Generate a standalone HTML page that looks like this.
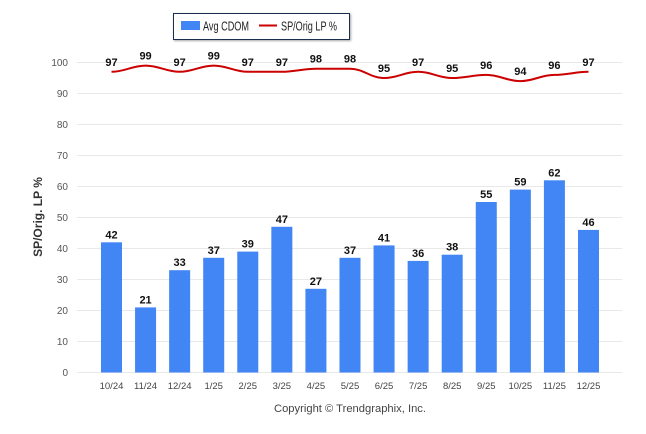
<!DOCTYPE html><html><head><style>body{margin:0;background:#fff}svg{display:block;font-family:"Liberation Sans",Arial,sans-serif}</style></head><body>
<svg width="646" height="434" xmlns="http://www.w3.org/2000/svg">
<defs><filter id="s"><feDropShadow dx="1" dy="1" stdDeviation="1" flood-opacity="0.35"/></filter></defs>
<rect x="173.5" y="13.5" width="176" height="26" fill="#fff" stroke="#1f2d4f" filter="url(#s)"/>
<rect x="181" y="21" width="19" height="9" fill="#4285f4"/>
<text x="203" y="30.5" font-size="13" fill="#222" textLength="46" lengthAdjust="spacingAndGlyphs">Avg CDOM</text>
<line x1="259" y1="25.5" x2="277" y2="25.5" stroke="#c00" stroke-width="2"/>
<text x="281" y="30.5" font-size="13" fill="#222" textLength="56" lengthAdjust="spacingAndGlyphs">SP/Orig LP %</text>
<g stroke="#e8e8e8" stroke-width="1">
<line x1="77" x2="622" y1="62.5" y2="62.5"/><line x1="77" x2="622" y1="93.5" y2="93.5"/><line x1="77" x2="622" y1="124.5" y2="124.5"/><line x1="77" x2="622" y1="155.5" y2="155.5"/><line x1="77" x2="622" y1="186.5" y2="186.5"/><line x1="77" x2="622" y1="217.5" y2="217.5"/><line x1="77" x2="622" y1="248.5" y2="248.5"/><line x1="77" x2="622" y1="279.5" y2="279.5"/><line x1="77" x2="622" y1="310.5" y2="310.5"/><line x1="77" x2="622" y1="341.5" y2="341.5"/><line x1="77" x2="622" y1="372.5" y2="372.5"/>
</g>
<g font-size="10" fill="#555" text-anchor="end">
<text x="68" y="66">100</text><text x="68" y="97">90</text><text x="68" y="128">80</text><text x="68" y="159">70</text><text x="68" y="190">60</text><text x="68" y="221">50</text><text x="68" y="252">40</text><text x="68" y="283">30</text><text x="68" y="314">20</text><text x="68" y="345">10</text><text x="68" y="376">0</text>
</g>
<text transform="translate(42,217) rotate(-90)" font-size="12" font-weight="bold" fill="#333" text-anchor="middle">SP/Orig. LP %</text>
<g id="bars" fill="#4285f4"></g>
<g id="bl" font-size="11" font-weight="bold" fill="#111" text-anchor="middle"></g>
<g id="xl" font-size="9.5" fill="#444" text-anchor="middle"></g>
<path id="ln" fill="none" stroke="#c00" stroke-width="2"/>
<g id="ll" font-size="11" font-weight="bold" fill="#111" text-anchor="middle"></g>
<text x="350" y="412" font-size="11" fill="#444" text-anchor="middle" textLength="152" lengthAdjust="spacingAndGlyphs">Copyright © Trendgraphix, Inc.</text>
<script>
var b=[42,21,33,37,39,47,27,37,41,36,38,55,59,62,46],l=[97,99,97,99,97,97,98,98,95,97,95,96,94,96,97],x=["10/24","11/24","12/24","1/25","2/25","3/25","4/25","5/25","6/25","7/25","8/25","9/25","10/25","11/25","12/25"];
var ns="http://www.w3.org/2000/svg";function el(p,t,a,tx){var e=document.createElementNS(ns,t);for(var k in a)e.setAttribute(k,a[k]);if(tx)e.textContent=tx;document.getElementById(p).appendChild(e);}
var Y=function(v){return 372.5-3.1*v};var d="",w=34.07;
for(var i=0;i<15;i++){var c=111.5+w*i;
el("bars","rect",{x:c-10.5,y:Y(b[i]),width:21,height:3.1*b[i]});
el("bl","text",{x:c,y:Y(b[i])-4},b[i]);
el("xl","text",{x:c,y:389},x[i]);
if(i==0)d="M"+c+","+Y(l[i]);else{var p=c-w;d+="C"+(p+w*0.4)+","+Y(l[i-1])+" "+(c-w*0.4)+","+Y(l[i])+" "+c+","+Y(l[i]);}
el("ll","text",{x:c,y:Y(l[i])-6},l[i]);}
document.getElementById("ln").setAttribute("d",d);
</script>
</svg></body></html>
